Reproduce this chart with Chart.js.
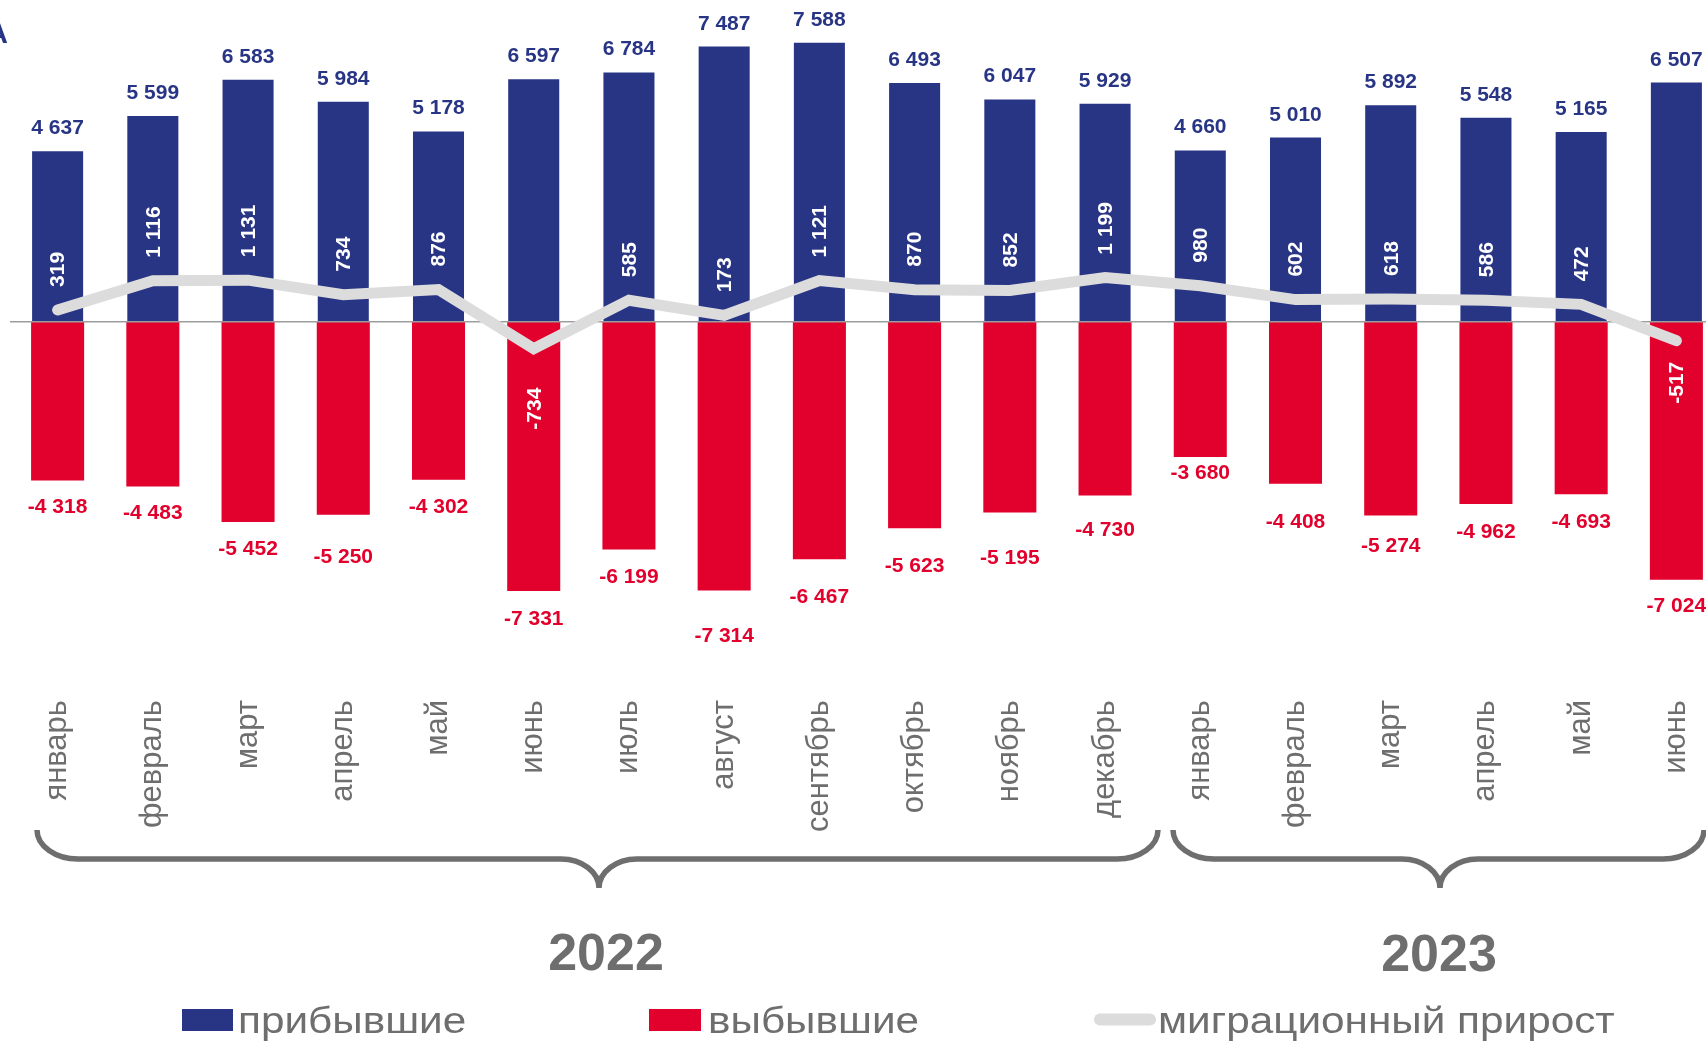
<!DOCTYPE html>
<html>
<head>
<meta charset="utf-8">
<script src="https://cdn.jsdelivr.net/npm/chart.js@4.4.1/dist/chart.umd.min.js"></script>
<style>
html,body{margin:0;padding:0;background:#fff;overflow:hidden;width:1706px;height:1041px}
#wrap{position:absolute;left:0;top:0;width:1736px;height:1041px}
</style>
</head>
<body>
<div id="wrap"><canvas id="c" width="1736" height="1041"></canvas></div>
<script>
const months = ['январь','февраль','март','апрель','май','июнь','июль','август','сентябрь','октябрь','ноябрь','декабрь',
                'январь','февраль','март','апрель','май','июнь'];
const years = ['2022','2023'];
const seriesNames = ['прибывшие','выбывшие','миграционный прирост'];
const arrived   = [4637,5599,6583,5984,5178,6597,6784,7487,7588,6493,6047,5929,4660,5010,5892,5548,5165,6507];
const departed  = [-4318,-4483,-5452,-5250,-4302,-7331,-6199,-7314,-6467,-5623,-5195,-4730,-3680,-4408,-5274,-4962,-4693,-7024];
const netGrowth = [319,1116,1131,734,876,-734,585,173,1121,870,852,1199,980,602,618,586,472,-517];

// label placement tweaks (pixels), as hand-placed in the original slide
const departedLabelNudge = [1,1,1,16,1,2,1,20,12,12,19,8,-10,12,4,2,2,0];
const netLabelNudge      = [0,0,0,0,0,9,0,0,0,0,0,0,0,0,0,0,0,-9];

const BLUE = '#283584', RED = '#e2002c', GREY_LINE = '#dcdcdc', TEXT_GREY = '#6e6e6e';
const FONT = '"Liberation Sans", Arial, sans-serif';

function fmt(v){
  const s = String(Math.abs(v)).replace(/\B(?=(\d{3})+(?!\d))/g, ' ');
  return (v < 0 ? '-' : '') + s;
}

function brace(ctx, x1, x2, xm, yTop, yH, yTip, rEnd, rMid){
  const k = 0.55;
  ctx.beginPath();
  ctx.moveTo(x1, yTop);
  ctx.bezierCurveTo(x1, yTop + k*(yH-yTop), x1 + rEnd*(1-k), yH, x1 + rEnd, yH);
  ctx.lineTo(xm - rMid, yH);
  ctx.bezierCurveTo(xm - rMid*(1-k), yH, xm, yH + (1-k)*(yTip-yH), xm, yTip);
  ctx.bezierCurveTo(xm, yH + (1-k)*(yTip-yH), xm + rMid*(1-k), yH, xm + rMid, yH);
  ctx.lineTo(x2 - rEnd, yH);
  ctx.bezierCurveTo(x2 - rEnd*(1-k), yH, x2, yTop + k*(yH-yTop), x2, yTop);
  ctx.stroke();
}

function stretchedText(ctx, text, x, y, sx){
  ctx.save();
  ctx.translate(x, y);
  ctx.scale(sx, 1);
  ctx.fillText(text, 0, 0);
  ctx.restore();
}

const overlay = {
  id: 'overlay',
  beforeDatasetDraw(chart, args){
    if (args.meta.type !== 'line') return;
    const ctx = chart.ctx;
    const y0 = chart.scales.y.getPixelForValue(0);
    ctx.save();
    ctx.strokeStyle = '#9d9d9d';
    ctx.lineWidth = 1.6;
    ctx.beginPath();
    ctx.moveTo(chart.chartArea.left, y0);
    ctx.lineTo(chart.width, y0);
    ctx.stroke();
    ctx.restore();
  },
  afterDatasetsDraw(chart){
    const ctx = chart.ctx;
    ctx.save();
    ctx.font = 'bold 21px ' + FONT;
    ctx.textAlign = 'center';
    ctx.textBaseline = 'alphabetic';
    const mA = chart.getDatasetMeta(1), mD = chart.getDatasetMeta(2), mN = chart.getDatasetMeta(0);
    ctx.fillStyle = BLUE;
    mA.data.forEach((el, i) => ctx.fillText(fmt(arrived[i]), el.x, el.y - 17));
    ctx.fillStyle = RED;
    mD.data.forEach((el, i) => ctx.fillText(fmt(departed[i]), el.x, el.y + 32 + departedLabelNudge[i]));
    ctx.fillStyle = '#ffffff';
    mN.data.forEach((pt, i) => {
      const v = netGrowth[i];
      ctx.save();
      ctx.translate(pt.x + 1, (v >= 0 ? pt.y - 23 : pt.y + 30) + netLabelNudge[i]);
      ctx.rotate(-Math.PI / 2);
      ctx.textBaseline = 'middle';
      ctx.textAlign = v >= 0 ? 'left' : 'right';
      ctx.fillText(fmt(v), 0, 0);
      ctx.restore();
    });
    ctx.restore();
  },
  afterDraw(chart){
    const ctx = chart.ctx;
    ctx.save();
    // cut-off title fragment
    ctx.fillStyle = BLUE;
    ctx.font = 'bold 29px ' + FONT;
    ctx.textAlign = 'right';
    ctx.textBaseline = 'alphabetic';
    ctx.fillText('А', 8, 43);

    // year braces
    ctx.strokeStyle = TEXT_GREY;
    ctx.lineWidth = 5.5;
    ctx.lineCap = 'butt';
    brace(ctx, 37, 1158, 599, 830, 859, 888, 41, 38);
    brace(ctx, 1173, 1704, 1440, 830, 859, 888, 41, 38);

    // year labels
    ctx.fillStyle = TEXT_GREY;
    ctx.font = 'bold 52px ' + FONT;
    ctx.textAlign = 'center';
    ctx.fillText(years[0], 606, 970);
    ctx.fillText(years[1], 1439, 971);

    // legend
    const sx = 1.175;
    ctx.font = '36px ' + FONT;
    ctx.textAlign = 'left';
    ctx.fillStyle = BLUE;
    ctx.fillRect(182, 1009, 51, 22);
    ctx.fillStyle = RED;
    ctx.fillRect(649, 1009, 52, 22);
    ctx.strokeStyle = GREY_LINE;
    ctx.lineWidth = 12;
    ctx.lineCap = 'round';
    ctx.beginPath();
    ctx.moveTo(1100, 1019.5);
    ctx.lineTo(1150, 1019.5);
    ctx.stroke();
    ctx.fillStyle = TEXT_GREY;
    stretchedText(ctx, seriesNames[0], 238, 1033, sx);
    stretchedText(ctx, seriesNames[1], 708, 1033, sx);
    stretchedText(ctx, seriesNames[2], 1158, 1033, sx);
    ctx.restore();
  }
};

new Chart(document.getElementById('c'), {
  data: {
    labels: months,
    datasets: [
      {
        type: 'line', label: seriesNames[2], data: netGrowth, order: 0, stack: 'net',
        borderColor: GREY_LINE, borderWidth: 11, pointRadius: 0, pointHoverRadius: 0,
        tension: 0, borderCapStyle: 'round', borderJoinStyle: 'miter', fill: false
      },
      {
        type: 'bar', label: seriesNames[0], data: arrived, order: 2, stack: 'flow',
        backgroundColor: BLUE, borderWidth: 0, barPercentage: 0.536, categoryPercentage: 1
      },
      {
        type: 'bar', label: seriesNames[1], data: departed, order: 1, stack: 'flow',
        backgroundColor: RED, borderWidth: 0, barPercentage: 0.557, categoryPercentage: 1
      }
    ]
  },
  options: {
    responsive: false,
    devicePixelRatio: 1,
    animation: false,
    layout: { padding: { left: 10, right: 12, top: 0, bottom: 0 } },
    plugins: { legend: { display: false }, tooltip: { enabled: false } },
    scales: {
      x: {
        stacked: true,
        offset: true,
        grid: { display: false, drawTicks: false },
        border: { display: false },
        ticks: {
          autoSkip: false, minRotation: 90, maxRotation: 90, padding: 20,
          color: TEXT_GREY, font: { family: FONT, size: 31 }
        },
        afterFit(scale){ scale.height = 361; }
      },
      y: {
        display: false,
        stacked: true,
        min: -9750,
        max: 8754
      }
    }
  },
  plugins: [overlay]
});
</script>
</body>
</html>
